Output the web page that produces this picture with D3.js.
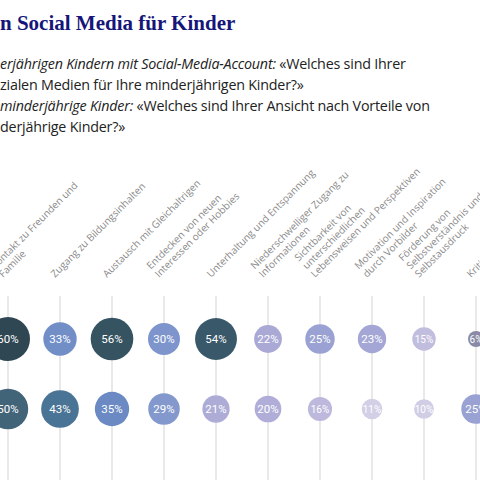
<!DOCTYPE html><html><head><meta charset="utf-8">
<script src="https://cdn.jsdelivr.net/npm/d3@7"></script>
<style>body{margin:0;background:#fff}</style></head><body><svg id="c" width="480" height="480"></svg>
<script>
const categories=[["Kontakt zu Freunden und","Familie"],["Zugang zu Bildungsinhalten"],["Austausch mit Gleichaltrigen"],["Entdecken von neuen","Interessen oder Hobbies"],["Unterhaltung und Entspannung"],["Niederschwelliger Zugang zu","Informationen"],["Sichtbarkeit von","unterschiedlichen","Lebensweisen und Perspektiven"],["Motivation und Inspiration","durch Vorbilder"],["Förderung von","Selbstverständnis und","Selbstausdruck"],["Kritisches Denken"]];
const withAccount=[60,33,56,30,54,22,25,23,15,6];
const withoutAccount=[50,43,35,29,21,20,16,11,10,25];
const rows=[withAccount,withoutAccount];
const svg=d3.select("#c");
const x=d3.scaleLinear().domain([0,9]).range([8,476]);
const y=d3.scaleBand().domain([0,1]).range([304,444]);
const rs=d3.scaleSqrt().domain([0,60]).range([0,20.5]);
const r=v=>1.5+rs(v);
const col=d3.scaleLinear().domain([6,11,16,22,30,35,43,50,60]).range(["#c9c6e0","#d2cfe6","#bdb9dc","#aaa9d6","#7d95cc","#6b8ac4","#4a7496","#416479","#2e4752"]);
svg.append("text").attr("x",0).attr("y",30).attr("font-family","Liberation Serif, serif").attr("font-weight","bold").attr("font-size",21).attr("fill","#16167a").text("n Social Media für Kinder");
const sub=[[["erjährigen Kindern mit Social-Media-Account: ","italic"],["«Welches sind Ihrer","normal"]],[["zialen Medien für Ihre minderjährigen Kinder?»","normal"]],[["minderjährige Kinder: ","italic"],["«Welches sind Ihrer Ansicht nach Vorteile von","normal"]],[["derjährige Kinder?»","normal"]]];
sub.forEach((l,i)=>{const t=svg.append("text").attr("x",0).attr("y",69+i*21).attr("font-family","Open Sans, sans-serif").attr("font-size",14.3).attr("letter-spacing",-0.2).attr("fill","#222");
 l.forEach(s=>t.append("tspan").attr("font-style",s[1]).text(s[0]));});
categories.forEach((c,i)=>{
 const cx=x(i);
 svg.append("line").attr("x1",cx).attr("x2",cx).attr("y1",296).attr("y2",480).attr("stroke","#e2e2e2").attr("stroke-width",1.5);
 const g=svg.append("g").attr("transform",`translate(${cx-5},278) rotate(-45)`);
 c.forEach((s,j)=>g.append("text").attr("x",0).attr("y",-(c.length-1-j)*11.5).attr("font-family","Open Sans, sans-serif").attr("font-size",10).attr("fill","#8a8a8a").text(s));
});
rows.forEach((vals,ri)=>{
 const cy=y(ri)+y.bandwidth()/2;
 vals.forEach((v,i)=>{
  svg.append("circle").attr("cx",x(i)).attr("cy",cy).attr("r",r(v)).attr("fill",i==9&&ri==0?"#8a8aa6":col(v));
  svg.append("text").attr("x",x(i)).attr("y",cy+4).attr("text-anchor","middle").attr("font-family","Roboto, sans-serif").attr("font-size",v<20?10:11.5).attr("fill","#fff").text(v+"%");
 });
});
</script></body></html>
